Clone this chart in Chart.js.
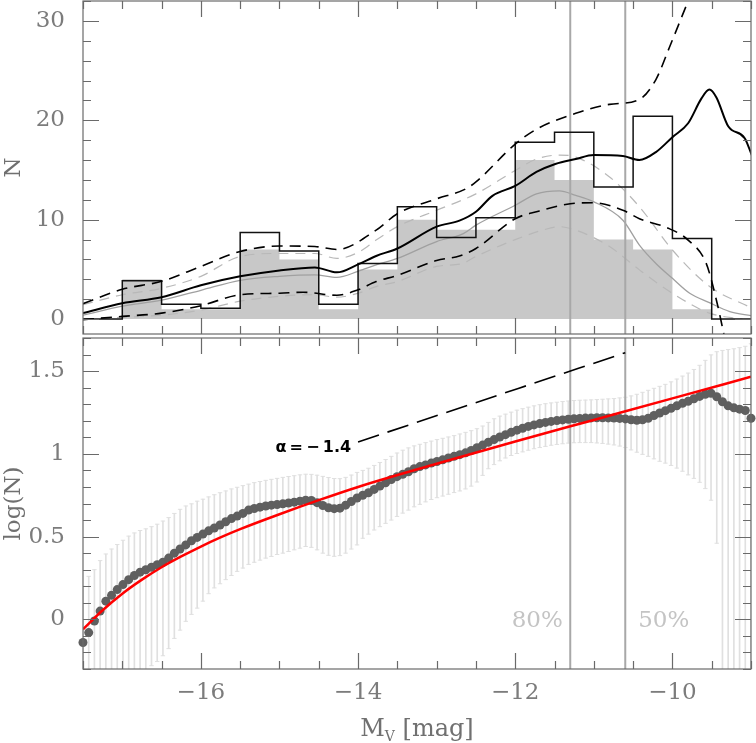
<!DOCTYPE html>
<html>
<head>
<meta charset="utf-8">
<script src="https://cdn.jsdelivr.net/npm/chart.js@4.4.1/dist/chart.umd.min.js"></script>
<style>
  html, body { margin: 0; padding: 0; background: #fff; }
  #wrap { position: relative; width: 756px; height: 743px; }
  canvas { position: absolute; left: 0; }
  #top { top: 0; }
  #bottom { top: 333px; }
</style>
</head>
<body>
<div id="wrap">
  <canvas id="top" width="756" height="335"></canvas>
  <canvas id="bottom" width="756" height="410"></canvas>
</div>
<script>
// axis ranges and tick labels
const magRange = [-17.5, -9.0];
const nRange = [-1.5, 32];
const logRange = [-0.3, 1.7];
const magTicks = [-16, -14, -12, -10];
const nTicks = [0, 10, 20, 30];
const logTicks = [0, 0.5, 1, 1.5];
const limitMags = [-11.3, -10.6];   // 80% and 50% completeness

// histograms, 0.5 mag bins
const histEdges = [-17.5, -17.0, -16.5, -16.0, -15.5, -15.0, -14.5, -14.0, -13.5, -13.0,
                   -12.5, -12.0, -11.5, -11.0, -10.5, -10.0, -9.5, -9.0];
const countsRaw = [0, 4, 1, 1, 7, 6, 1, 5, 10, 9, 9, 16, 14, 8, 7, 1, 0];
const countsCorr = [0, 3.85, 1.5, 1.1, 8.7, 6.85, 1.5, 5.6, 11.3, 8.2, 10.2, 17.8, 18.8, 13.3, 20.4, 8.1, 0];

// smoothed LF, completeness corrected (black)
const corrMag = [-17.5, -17.0, -16.5, -16.0, -15.5, -15.0, -14.55, -14.27, -14.0, -13.77, -13.5, -13.0, -12.71,
                 -12.5, -12.29, -12.0, -11.73, -11.49, -11.23, -11.0, -10.63, -10.42, -10.21, -10.0, -9.8,
                 -9.63, -9.53, -9.44, -9.29, -9.08, -8.99];
const corrN = [0.6, 1.6, 2.2, 3.4, 4.3, 4.9, 5.2, 4.7, 5.5, 6.35, 7.1, 9.3, 9.9,
               10.8, 12.4, 13.4, 14.8, 15.6, 16.1, 16.5, 16.4, 16.0, 16.8, 18.3, 19.7,
               22.2, 23.1, 22.3, 19.4, 18.2, 16.5];
const corrHiMag = [-17.5, -17.0, -16.5, -16.0, -15.5, -15.0, -14.55, -14.27, -13.77, -13.5, -13.0, -12.63,
                   -12.5, -12.0, -11.73, -11.23, -10.8, -10.42, -10.21, -10.04, -9.8];
const corrHiN = [1.55, 3.0, 3.8, 5.3, 6.8, 7.35, 7.3, 7.0, 8.95, 10.6, 12.1, 13.1,
                 13.8, 17.6, 19.1, 20.7, 21.6, 22.1, 24.1, 27.3, 32];
const corrLoMag = [-17.5, -17.0, -16.5, -16.0, -15.5, -15.0, -14.7, -14.27, -14.0, -13.77, -13.5, -13.0, -12.71,
                   -12.5, -12.0, -11.73, -11.3, -11.0, -10.63, -10.42, -10.04, -9.8, -9.57, -9.44, -9.34];
const corrLoN = [-0.05, 0.27, 0.6, 1.35, 2.45, 2.6, 2.7, 2.4, 2.95, 3.77, 4.4, 5.9, 6.35,
                 7.1, 10.1, 10.8, 11.6, 11.7, 10.95, 10.1, 9.1, 7.95, 5.6, 1.9, -1.7];

// smoothed LF, observed (grey)
const rawMag = [-17.5, -17.0, -16.5, -16.0, -15.5, -15.0, -14.55, -14.27, -14.0, -13.77, -13.5, -13.0, -12.66,
                -12.5, -12.0, -11.73, -11.44, -11.23, -11.0, -10.63, -10.42, -10.21, -10.0, -9.78, -9.53, -9.27, -8.99];
const rawN = [0.4, 1.3, 1.9, 2.9, 3.9, 4.3, 4.45, 4.2, 4.8, 5.45, 6.1, 7.8, 8.6,
              9.45, 11.45, 12.6, 12.9, 12.45, 11.8, 9.95, 7.45, 5.6, 4.1, 2.6, 1.66, 0.76, 0.33];
const rawHiMag = [-17.5, -17.0, -16.5, -16.0, -15.5, -15.0, -14.55, -14.27, -14.0, -13.77, -13.5, -13.0,
                  -12.5, -12.0, -11.73, -11.44, -11.23, -10.8, -10.42, -10.0, -9.53, -8.99];
const rawHiN = [1.45, 2.45, 3.1, 4.3, 6.3, 6.6, 6.6, 6.1, 6.7, 7.95, 9.3, 10.95,
                12.6, 14.95, 16.1, 16.5, 16.3, 14.3, 11.3, 6.95, 3.3, 1.1];
const rawLoMag = [-17.5, -16.5, -16.0, -15.5, -15.0, -14.55, -14.27, -14.0, -13.77, -13.5, -13.0, -12.67,
                  -12.5, -12.0, -11.65, -11.44, -11.23, -10.8, -10.42, -10.0, -9.53, -9.11];
const rawLoN = [0, 0.4, 0.9, 1.8, 2.3, 2.45, 2.2, 2.6, 3.27, 3.77, 5.3, 5.6,
                6.3, 8.0, 8.95, 9.3, 8.95, 7.3, 4.95, 2.6, 0.6, 0];

// log LF samples (uniform in magnitude) with error range
const dotStart = -17.5, dotStep = 8.5 / 117;
const dotLog = [-0.14, -0.08, -0.01, 0.05, 0.11, 0.145, 0.18, 0.21, 0.24, 0.265,
  0.285, 0.30, 0.315, 0.33, 0.345, 0.37, 0.40, 0.425, 0.45, 0.475,
  0.495, 0.515, 0.535, 0.552, 0.57, 0.59, 0.609, 0.624, 0.64, 0.66,
  0.67, 0.678, 0.685, 0.69, 0.694, 0.698, 0.703, 0.708, 0.714, 0.72,
  0.718, 0.705, 0.688, 0.674, 0.669, 0.672, 0.69, 0.712, 0.733, 0.75,
  0.765, 0.785, 0.805, 0.825, 0.845, 0.862, 0.876, 0.892, 0.91, 0.923,
  0.933, 0.944, 0.954, 0.964, 0.975, 0.985, 0.995, 1.006, 1.02, 1.037,
  1.053, 1.07, 1.086, 1.102, 1.116, 1.13, 1.143, 1.155, 1.166, 1.175,
  1.183, 1.19, 1.196, 1.201, 1.205, 1.209, 1.212, 1.214, 1.216, 1.217,
  1.218, 1.218, 1.217, 1.216, 1.214, 1.211, 1.206, 1.203, 1.206, 1.215,
  1.232, 1.247, 1.261, 1.275, 1.29, 1.305, 1.318, 1.333, 1.347, 1.36,
  1.366, 1.345, 1.315, 1.29, 1.278, 1.27, 1.262, 1.215];
const errHi = [0.20, 0.26, 0.30, 0.355, 0.395, 0.425, 0.452, 0.478, 0.503, 0.522,
  0.537, 0.547, 0.56, 0.575, 0.594, 0.615, 0.64, 0.665, 0.685, 0.698,
  0.714, 0.726, 0.74, 0.753, 0.765, 0.776, 0.788, 0.798, 0.808, 0.817,
  0.826, 0.833, 0.84, 0.846, 0.852, 0.858, 0.863, 0.868, 0.873, 0.877,
  0.876, 0.871, 0.864, 0.857, 0.851, 0.85, 0.858, 0.872, 0.888, 0.9,
  0.913, 0.93, 0.948, 0.966, 0.985, 1.005, 1.022, 1.036, 1.048, 1.058,
  1.068, 1.077, 1.086, 1.094, 1.102, 1.11, 1.12, 1.13, 1.14, 1.152,
  1.168, 1.19, 1.212, 1.228, 1.24, 1.252, 1.264, 1.273, 1.282, 1.29,
  1.297, 1.303, 1.308, 1.312, 1.316, 1.319, 1.322, 1.324, 1.325, 1.326,
  1.328, 1.33, 1.332, 1.334, 1.338, 1.342, 1.35, 1.36, 1.372, 1.384,
  1.396, 1.408, 1.42, 1.435, 1.452, 1.47, 1.488, 1.51, 1.535, 1.565,
  1.598, 1.617, 1.625, 1.63, 1.635, 1.642, 1.65, 1.665];
const errLo = [-1.5, -1.2, -1.0, -0.9, -0.8, -0.72, -0.65, -0.58, -0.52, -0.46,
  -0.4, -0.33, -0.28, -0.255, -0.22, -0.177, -0.115, -0.065, -0.012, 0.03,
  0.068, 0.11, 0.155, 0.19, 0.215, 0.24, 0.265, 0.29, 0.31, 0.332,
  0.345, 0.358, 0.37, 0.38, 0.392, 0.40, 0.41, 0.42, 0.43, 0.44,
  0.435, 0.42, 0.40, 0.387, 0.381, 0.385, 0.40, 0.425, 0.45, 0.49,
  0.515, 0.54, 0.56, 0.58, 0.60, 0.622, 0.642, 0.66, 0.68, 0.695,
  0.71, 0.724, 0.735, 0.745, 0.756, 0.766, 0.776, 0.788, 0.805, 0.83,
  0.87, 0.91, 0.935, 0.958, 0.975, 0.99, 1.002, 1.012, 1.022, 1.031,
  1.038, 1.045, 1.052, 1.057, 1.061, 1.065, 1.067, 1.068, 1.068, 1.068,
  1.066, 1.063, 1.059, 1.054, 1.047, 1.038, 1.024, 1.01, 0.997, 0.985,
  0.97, 0.955, 0.944, 0.93, 0.914, 0.895, 0.873, 0.852, 0.828, 0.79,
  0.72, 0.46, -0.5, -1.0, -1.2, -1.4, -1.6, -2.0];

// fitted function and alpha = -1.4 reference slope
const fitMag = [-17.5, -17.25, -17.0, -16.75, -16.5, -16.25, -16.0, -15.75, -15.5, -15.0,
                -14.5, -14.0, -13.0, -12.0, -11.0, -10.0, -9.0];
const fitLog = [-0.06, 0.055, 0.155, 0.24, 0.315, 0.38, 0.44, 0.495, 0.545, 0.635,
                0.72, 0.80, 0.94, 1.075, 1.205, 1.335, 1.466];
const alphaMag = [-14.0, -10.6];
const alphaLog = [1.072, 1.611];

const pts = (xs, ys) => xs.map((x, i) => ({x, y: ys[i]}));
const stepPts = v => histEdges.map((x, i) => ({x, y: v[Math.min(i, v.length - 1)]}));
const dotMag = dotLog.map((_, i) => dotStart + i * dotStep);
const vline = (m, r) => [{x: m, y: r[0]}, {x: m, y: r[1]}];

Chart.defaults.font.family = '"DejaVu Serif", serif';
Chart.defaults.font.size = 23;
Chart.defaults.color = '#7c7c7c';

const minus = v => (v < 0 ? '\u2212' : '') + Math.abs(v);
const noPad = s => { s.paddingTop = 0; s.paddingBottom = 0; s.paddingLeft = 0; s.paddingRight = 0; };

// frame with inward ticks on all four sides
const frame = {
  id: 'frame',
  afterDatasetsDraw(chart, args, o) {
    const {ctx, chartArea: a, scales: {x, y}} = chart;
    ctx.save();
    ctx.strokeStyle = '#6a6a6a';
    ctx.lineWidth = 1.2;
    ctx.strokeRect(a.left, a.top, a.right - a.left, a.bottom - a.top);
    ctx.beginPath();
    for (let k = Math.ceil(x.min / 0.5); k * 0.5 <= x.max + 1e-9; k++) {
      const v = k * 0.5;
      const len = (k % 4 === 0) ? 16 : 8;
      const px = Math.round(x.getPixelForValue(v)) + 0.5;
      ctx.moveTo(px, a.top); ctx.lineTo(px, a.top + len);
      ctx.moveTo(px, a.bottom); ctx.lineTo(px, a.bottom - len);
    }
    for (let k = Math.ceil(y.min / o.minor - 1e-9); k * o.minor <= y.max + 1e-9; k++) {
      const v = k * o.minor;
      const r = v / o.major;
      const len = Math.abs(r - Math.round(r)) < 1e-6 ? 16 : 8;
      const py = Math.round(y.getPixelForValue(v)) + 0.5;
      ctx.moveTo(a.left, py); ctx.lineTo(a.left + len, py);
      ctx.moveTo(a.right, py); ctx.lineTo(a.right - len, py);
    }
    ctx.stroke();
    ctx.restore();
  }
};

const yAxis = (range, ticks, title) => ({
  type: 'linear', min: range[0], max: range[1],
  afterBuildTicks: s => { s.ticks = ticks.map(v => ({value: v})); },
  afterFit: s => { s.width = 83; noPad(s); },
  grid: {display: false, drawTicks: false},
  border: {display: false},
  ticks: {padding: 18, callback: v => String(v)},
  title: {display: true, text: title, color: '#707070', padding: 0, font: {size: 23}}
});

// top panel
new Chart(document.getElementById('top'), {
  type: 'line',
  data: {
    datasets: [
      {data: pts(corrMag, corrN), borderColor: '#000', borderWidth: 2, order: 1},
      {data: pts(corrHiMag, corrHiN), borderColor: '#000', borderWidth: 1.6, borderDash: [11, 7], order: 2},
      {data: pts(corrLoMag, corrLoN), borderColor: '#000', borderWidth: 1.6, borderDash: [11, 7], order: 2},
      {data: stepPts(countsCorr), stepped: true, borderColor: '#111', borderWidth: 1.5, order: 3,
       cubicInterpolationMode: 'default', tension: 0},
      {data: vline(limitMags[0], nRange), borderColor: '#a8a8a8', borderWidth: 2, order: 4, clip: 0},
      {data: vline(limitMags[1], nRange), borderColor: '#a8a8a8', borderWidth: 2, order: 4, clip: 0},
      {data: pts(rawMag, rawN), borderColor: '#a0a0a0', borderWidth: 1.3, order: 5},
      {data: pts(rawHiMag, rawHiN), borderColor: '#b8b8b8', borderWidth: 1.2, borderDash: [10, 7], order: 6},
      {data: pts(rawLoMag, rawLoN), borderColor: '#b8b8b8', borderWidth: 1.2, borderDash: [10, 7], order: 6},
      {data: stepPts(countsRaw), stepped: true, borderColor: '#c8c8c8', borderWidth: 0.01,
       backgroundColor: '#c8c8c8', fill: 'origin', order: 7, tension: 0}
    ]
  },
  options: {
    responsive: false, animation: false, devicePixelRatio: 1, events: [],
    layout: {padding: {left: 0, right: 5, top: 1, bottom: 1}},
    elements: {point: {radius: 0}, line: {cubicInterpolationMode: 'monotone'}},
    plugins: {legend: {display: false}, tooltip: {enabled: false}, frame: {minor: 2, major: 10}},
    scales: {
      x: {type: 'linear', min: magRange[0], max: magRange[1], display: false, offset: false},
      y: yAxis(nRange, nTicks, 'N')
    }
  },
  plugins: [frame]
});

// labels for lower panel
const notes = {
  id: 'notes',
  afterDatasetsDraw(chart) {
    const {ctx, chartArea: a, scales: {x, y}} = chart;
    ctx.save();
    ctx.textAlign = 'center';
    ctx.textBaseline = 'middle';
    ctx.font = '23px "DejaVu Serif"';
    ctx.fillStyle = '#c4c4c4';
    ctx.fillText('80%', x.getPixelForValue(-11.72), y.getPixelForValue(-0.01));
    ctx.fillText('50%', x.getPixelForValue(-10.11), y.getPixelForValue(-0.01));
    ctx.font = 'bold 16px "DejaVu Sans"';
    ctx.fillStyle = '#000';
    ctx.fillText('\u03b1 = \u2212 1.4'.replace(/ /g, '\u2009'), x.getPixelForValue(-14.57), y.getPixelForValue(1.038));
    // x axis title with subscript
    const cx = (a.left + a.right) / 2, cy = 394;
    ctx.fillStyle = '#707070';
    ctx.textAlign = 'left';
    ctx.textBaseline = 'alphabetic';
    ctx.font = '24px "DejaVu Serif"';
    const wM = ctx.measureText('M').width;
    const wR = ctx.measureText(' [mag]').width;
    ctx.font = '14px "DejaVu Serif"';
    const wV = ctx.measureText('V').width;
    let px = cx - (wM + wV + wR) / 2;
    const base = cy + 9;
    ctx.font = '24px "DejaVu Serif"';
    ctx.fillText('M', px, base);
    px += wM;
    ctx.font = '14px "DejaVu Serif"';
    ctx.fillText('V', px, base + 5);
    px += wV;
    ctx.font = '24px "DejaVu Serif"';
    ctx.fillText(' [mag]', px, base);
    ctx.restore();
  }
};

// bottom panel
new Chart(document.getElementById('bottom'), {
  type: 'line',
  data: {
    datasets: [
      {data: pts(fitMag, fitLog), borderColor: '#ff0000', borderWidth: 2.5, order: 1},
      {data: pts(dotMag, dotLog), showLine: false, pointRadius: 4.5, pointBackgroundColor: '#5f5f5f',
       pointBorderWidth: 0, order: 2, clip: false},
      {data: pts(alphaMag, alphaLog), borderColor: '#000', borderWidth: 1.6, borderDash: [22, 9], order: 3},
      {data: vline(limitMags[0], logRange), borderColor: '#a8a8a8', borderWidth: 2, order: 4, clip: 0},
      {data: vline(limitMags[1], logRange), borderColor: '#a8a8a8', borderWidth: 2, order: 4, clip: 0},
      {data: pts(dotMag, errHi), showLine: false, pointStyle: 'line', pointRadius: 2.2,
       pointBorderColor: '#e0e0e0', pointBorderWidth: 1, order: 5, clip: 0},
      {data: pts(dotMag, errLo), showLine: false, pointStyle: 'line', pointRadius: 2.2,
       pointBorderColor: '#e0e0e0', pointBorderWidth: 1, order: 5, clip: 0},
      {type: 'bar', data: dotMag.map((m, i) => ({x: m, y: [errLo[i], errHi[i]]})),
       backgroundColor: '#e0e0e0', borderWidth: 0, barThickness: 1, grouped: false, order: 6, clip: 0}
    ]
  },
  options: {
    responsive: false, animation: false, devicePixelRatio: 1, events: [],
    layout: {padding: {left: 0, right: 5, top: 1, bottom: 0}},
    elements: {point: {radius: 0}, line: {cubicInterpolationMode: 'monotone'}},
    plugins: {legend: {display: false}, tooltip: {enabled: false}, frame: {minor: 0.1, major: 0.5}},
    scales: {
      x: {
        type: 'linear', min: magRange[0], max: magRange[1], offset: false,
        afterBuildTicks: s => { s.ticks = magTicks.map(v => ({value: v})); },
        afterFit: s => { s.height = 74; noPad(s); },
        grid: {display: false, drawTicks: false, offset: false},
        border: {display: false},
        ticks: {padding: 10, maxRotation: 0, callback: v => minus(v)}
      },
      y: yAxis(logRange, logTicks, 'log(N)')
    }
  },
  plugins: [frame, notes]
});
</script>
</body>
</html>
